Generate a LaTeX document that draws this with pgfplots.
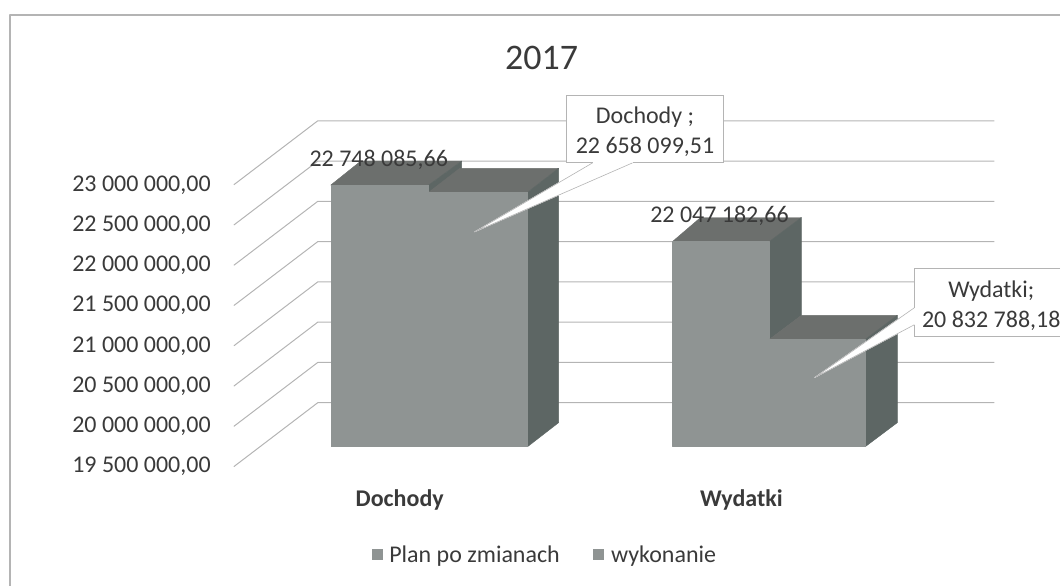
\documentclass[border=0pt]{standalone}
\usepackage{fontspec}
\setmainfont{Carlito}
\usepackage{pgfplots}
\pgfplotsset{compat=1.18}
\definecolor{frontc}{HTML}{8F9493}
\definecolor{topc}{HTML}{6C6F6D}
\definecolor{sidec}{HTML}{5D6664}
\definecolor{gridc}{HTML}{B4B4B4}
\definecolor{txtc}{HTML}{3A3A3A}
\newcommand{\sz}[1]{\fontsize{#1}{30}\selectfont}
\begin{document}
\begin{tikzpicture}[x=1pt,y=1pt]
\begin{axis}[
  at={(0,0)},anchor=south west,
  width=1061pt,height=586pt,scale only axis,
  xmin=0,xmax=1061,ymin=17775434,ymax=25045907,
  axis lines=none,clip=false,
  every axis plot/.append style={line join=round},
  legend columns=2,
  legend style={at={(axis cs:545,18160000)},anchor=center,draw=none,fill=none,
    font=\sz{24}\color{txtc},/tikz/every even column/.append style={column sep=32pt},
    inner sep=0pt,nodes={inner sep=1.5pt}},
  legend image code/.code={\fill[#1,draw=none] (0pt,-5.5pt) rectangle (11pt,5.5pt); \path (16pt,0pt);},
]
% frame
\addplot[gridc,line width=1.6pt,forget plot] coordinates {(10,17775434) (10,24859803) (1061,24859803)};
% back-wall grid lines
\addplot[gridc,line width=1pt,forget plot] coordinates {(234,19251861) (318,20045906) (995,20045906)};
\addplot[gridc,line width=1pt,forget plot] coordinates {(234,19751861) (318,20545906) (995,20545906)};
\addplot[gridc,line width=1pt,forget plot] coordinates {(234,20251861) (318,21045906) (995,21045906)};
\addplot[gridc,line width=1pt,forget plot] coordinates {(234,20751861) (318,21545906) (995,21545906)};
\addplot[gridc,line width=1pt,forget plot] coordinates {(234,21251861) (318,22045906) (995,22045906)};
\addplot[gridc,line width=1pt,forget plot] coordinates {(234,21751861) (318,22545906) (995,22545906)};
\addplot[gridc,line width=1pt,forget plot] coordinates {(234,22251861) (318,23045906) (995,23045906)};
\addplot[gridc,line width=1pt,forget plot] coordinates {(234,22751861) (318,23545906) (995,23545906)};
% Dochody: plan
\addplot[topc,fill=topc,forget plot] coordinates {(331,22748085.66) (429,22748085.66) (462,23045853) (361,23045853)} --cycle;
\addplot[sidec,fill=sidec,forget plot] coordinates {(429,22748085.66) (462,23045853) (462,22955867) (429,22658099.51)} --cycle;
% Dochody: wykonanie
\addplot[topc,fill=topc,forget plot] coordinates {(429,22658099.51) (528,22658099.51) (559,22955867) (460,22955867)} --cycle;
\addplot[sidec,fill=sidec,forget plot] coordinates {(528,22658099.51) (559,22955867) (559,19797767) (528,19500000)} --cycle;
\addplot[frontc,fill=frontc] coordinates {(331,19500000) (331,22748085.66) (429,22748085.66) (429,19500000)} --cycle;
\addlegendentry{Plan po zmianach}
\addplot[frontc,fill=frontc] coordinates {(429,19500000) (429,22658099.51) (528,22658099.51) (528,19500000)} --cycle;
\addlegendentry{wykonanie}
% Wydatki: plan
\addplot[topc,fill=topc,forget plot] coordinates {(673,22047182.66) (770,22047182.66) (802,22344950) (701,22344950)} --cycle;
\addplot[sidec,fill=sidec,forget plot] coordinates {(770,22047182.66) (802,22344950) (802,21130556) (770,20832788.18)} --cycle;
\addplot[frontc,fill=frontc,forget plot] coordinates {(673,19500000) (673,22047182.66) (770,22047182.66) (770,19500000)} --cycle;
% Wydatki: wykonanie
\addplot[topc,fill=topc,forget plot] coordinates {(770,20832788.18) (866,20832788.18) (898,21130556) (802,21130556)} --cycle;
\addplot[sidec,fill=sidec,forget plot] coordinates {(866,20832788.18) (898,21130556) (898,19797767) (866,19500000)} --cycle;
\addplot[frontc,fill=frontc,forget plot] coordinates {(770,19500000) (770,20832788.18) (866,20832788.18) (866,19500000)} --cycle;
% callout wedges
\addplot[white,fill=white,line width=.6pt,forget plot] coordinates {(593,23023600) (633,23023600) (475,22167500)} --cycle;
\addplot[white,fill=white,line width=.6pt,forget plot] coordinates {(915,21224600) (915,21013650) (815,20356000)} --cycle;
% tick labels
\begin{scope}[every node/.style={anchor=east,font=\sz{24}\color{txtc},inner sep=0pt}]
\node at (axis cs:211,22751861) {23 000 000,00};
\node at (axis cs:211,22251861) {22 500 000,00};
\node at (axis cs:211,21751861) {22 000 000,00};
\node at (axis cs:211,21251861) {21 500 000,00};
\node at (axis cs:211,20751861) {21 000 000,00};
\node at (axis cs:211,20251861) {20 500 000,00};
\node at (axis cs:211,19751861) {20 000 000,00};
\node at (axis cs:211,19251861) {19 500 000,00};
\end{scope}
% title, category names
\node[font=\sz{36}\color{txtc},inner sep=0pt] at (axis cs:542,24325000) {2017};
\node[font=\sz{24}\bfseries\color{txtc},inner sep=0pt] at (axis cs:400,18840000) {Dochody};
\node[font=\sz{24}\bfseries\color{txtc},inner sep=0pt] at (axis cs:742,18840000) {Wydatki};
% data labels
\node[font=\sz{24}\color{txtc},inner sep=0pt] at (axis cs:379,23060000) {22 748 085,66};
\node[font=\sz{24}\color{txtc},inner sep=0pt] at (axis cs:720,22370000) {22 047 182,66};
% callouts
\fill[white] (axis cs:567,23854900) rectangle (axis cs:724,23023600);
\draw[gridc,line width=1pt] (axis cs:593,23023600) -- (axis cs:567,23023600) -- (axis cs:567,23854900) -- (axis cs:724,23854900) -- (axis cs:724,23023600) -- (axis cs:633,23023600);
\addplot[gridc,line width=.6pt,forget plot] coordinates {(593,23023600) (475,22167500) (633,23023600)};
\node[font=\sz{24}\color{txtc},align=center,inner sep=0pt] at (axis cs:645.5,23412000) {Dochody ;\\22 658 099,51};
\fill[white] (axis cs:915,21708450) rectangle (axis cs:1061,20864770);
\draw[gridc,line width=1pt] (axis cs:1061,21708450) -- (axis cs:915,21708450) -- (axis cs:915,21224600);
\draw[gridc,line width=1pt] (axis cs:915,21013650) -- (axis cs:915,20864770) -- (axis cs:1061,20864770);
\addplot[gridc,line width=.6pt,forget plot] coordinates {(915,21224600) (815,20356000) (915,21013650)};
\node[font=\sz{24}\color{txtc},align=center,inner sep=0pt] at (axis cs:992,21255000) {Wydatki;\\20 832 788,18};
\end{axis}
\useasboundingbox (0,0) rectangle (1061pt,586pt);
\end{tikzpicture}
\end{document}
